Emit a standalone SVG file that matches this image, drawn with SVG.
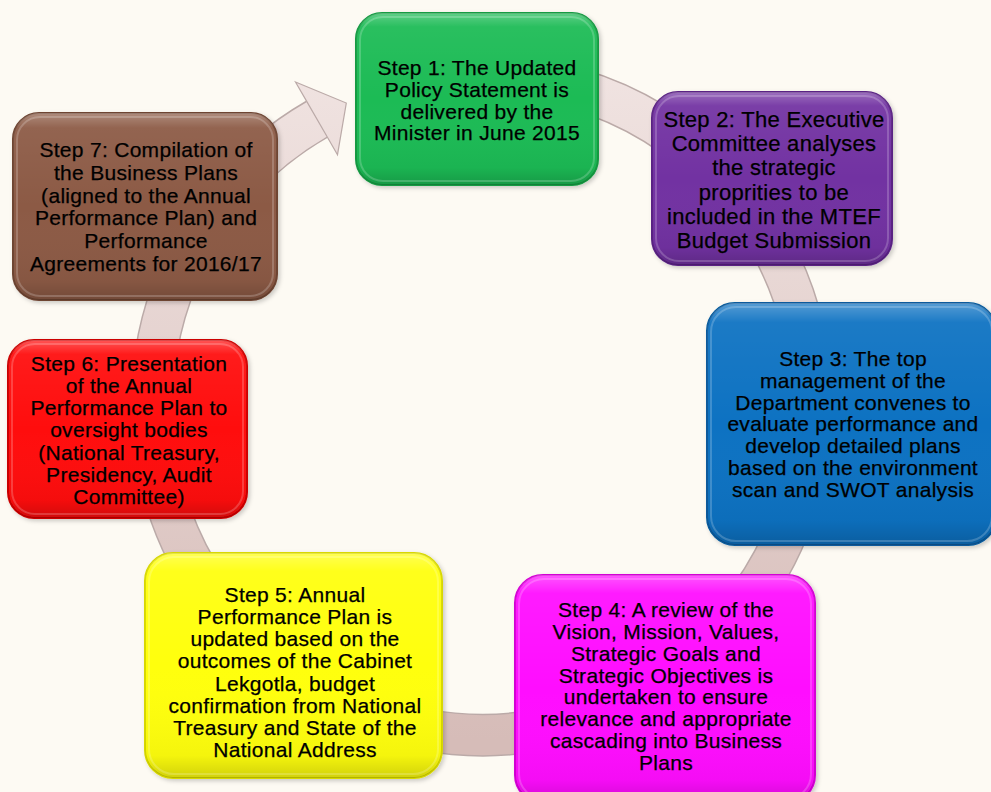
<svg xmlns="http://www.w3.org/2000/svg" width="991" height="792" viewBox="0 0 991 792">
<defs>
  <linearGradient id="ringGrad" gradientUnits="userSpaceOnUse" x1="0" y1="70" x2="0" y2="740">
    <stop offset="0" stop-color="#F0E3E1"/>
    <stop offset="1" stop-color="#D6BCB8"/>
  </linearGradient>
  <linearGradient id="gloss" x1="0" y1="0" x2="0" y2="1">
    <stop offset="0" stop-color="#fff" stop-opacity="0.3"/>
    <stop offset="0.08" stop-color="#fff" stop-opacity="0.06"/>
    <stop offset="0.5" stop-color="#fff" stop-opacity="0"/>
    <stop offset="0.9" stop-color="#000" stop-opacity="0.04"/>
    <stop offset="1" stop-color="#000" stop-opacity="0.18"/>
  </linearGradient>
  <filter id="shadow" x="-10%" y="-10%" width="120%" height="120%">
    <feDropShadow dx="2" dy="2" stdDeviation="2" flood-color="#000" flood-opacity="0.2"/>
  </filter>
</defs>
<style>
  .box { stroke-width: 2; filter: url(#shadow); }
  .gl { fill: url(#gloss); stroke: none; }
  .hl { fill: none; stroke: #fff; stroke-opacity: 0.2; stroke-width: 2; }
  .ringEdge { fill: none; stroke: #BBAAA8; stroke-width: 43; }
  .ring { fill: none; stroke: url(#ringGrad); stroke-width: 40; }
  .head { fill: url(#ringGrad); stroke: #BBAAA8; stroke-width: 1.2; stroke-linejoin: miter; }
  text { font-family: "Liberation Sans", Arial, sans-serif; font-size: 21px; fill: #000; stroke: #000; stroke-width: 0.25; text-anchor: middle; letter-spacing: 0.3px; }
  .big { font-size: 22px; }
</style>
<rect x="0" y="0" width="991" height="792" fill="#FDFAF3"/>

<g id="connectors">
  <path class="ringEdge" d="M 424.7 80 A 330 330 0 1 1 317 119.2"/>
  <path class="ring" d="M 424.7 80 A 330 330 0 1 1 317 119.2"/>
  <polygon class="head" points="295.5,82 346.3,103 337.5,154.7 327,136.5 307,101.9"/>
</g>

<g id="step1">
  <rect class="box" x="356" y="13" width="242" height="172" rx="26" fill="#1FBB55" stroke="#139A42"/>
  <rect class="gl" x="356" y="13" width="242" height="172" rx="26"/>
  <rect class="hl" x="360" y="17" width="234" height="164" rx="23"/>
  <text x="477" y="75">Step 1: The Updated</text>
  <text x="477" y="97">Policy Statement is</text>
  <text x="477" y="119">delivered by the</text>
  <text x="477" y="140">Minister in June 2015</text>
</g>

<g id="step2">
  <rect class="box" x="652" y="92" width="240" height="173" rx="26" fill="#7232A2" stroke="#5A2284"/>
  <rect class="gl" x="652" y="92" width="240" height="173" rx="26"/>
  <rect class="hl" x="656" y="96" width="232" height="165" rx="23"/>
  <text class="big" x="774" y="127">Step 2: The Executive</text>
  <text class="big" x="774" y="151">Committee analyses</text>
  <text class="big" x="774" y="175">the strategic</text>
  <text class="big" x="774" y="200">proprities to be</text>
  <text class="big" x="774" y="224">included in the MTEF</text>
  <text class="big" x="774" y="248">Budget Submission</text>
</g>

<g id="step3">
  <rect class="box" x="707" y="303" width="289" height="242" rx="28" fill="#0A72C2" stroke="#075A9C"/>
  <rect class="gl" x="707" y="303" width="289" height="242" rx="28"/>
  <rect class="hl" x="711" y="307" width="281" height="234" rx="25"/>
  <text x="853" y="366">Step 3: The top</text>
  <text x="853" y="388">management of the</text>
  <text x="853" y="410">Department convenes to</text>
  <text x="853" y="431">evaluate performance and</text>
  <text x="853" y="453">develop detailed plans</text>
  <text x="853" y="475">based on the environment</text>
  <text x="853" y="497">scan and SWOT analysis</text>
</g>

<g id="step4">
  <rect class="box" x="515" y="575" width="300" height="228" rx="28" fill="#FF10FF" stroke="#D400D4"/>
  <rect class="gl" x="515" y="575" width="300" height="228" rx="28"/>
  <rect class="hl" x="519" y="579" width="292" height="220" rx="25"/>
  <text x="666" y="617">Step 4: A review of the</text>
  <text x="666" y="639">Vision, Mission, Values,</text>
  <text x="666" y="661">Strategic Goals and</text>
  <text x="666" y="683">Strategic Objectives is</text>
  <text x="666" y="704">undertaken to ensure</text>
  <text x="666" y="726">relevance and appropriate</text>
  <text x="666" y="748">cascading into Business</text>
  <text x="666" y="770">Plans</text>
</g>

<g id="step5">
  <rect class="box" x="145" y="553" width="297" height="225" rx="28" fill="#FFFF10" stroke="#D8D800"/>
  <rect class="gl" x="145" y="553" width="297" height="225" rx="28"/>
  <rect class="hl" x="149" y="557" width="289" height="217" rx="25"/>
  <text x="295" y="602">Step 5: Annual</text>
  <text x="295" y="624">Performance Plan is</text>
  <text x="295" y="646">updated based on the</text>
  <text x="295" y="668">outcomes of the Cabinet</text>
  <text x="295" y="691">Lekgotla, budget</text>
  <text x="295" y="713">confirmation from National</text>
  <text x="295" y="735">Treasury and State of the</text>
  <text x="295" y="757">National Address</text>
</g>

<g id="step6">
  <rect class="box" x="8" y="340" width="239" height="178" rx="26" fill="#FF0A0A" stroke="#CC0000"/>
  <rect class="gl" x="8" y="340" width="239" height="178" rx="26"/>
  <rect class="hl" x="12" y="344" width="231" height="170" rx="23"/>
  <text x="129" y="371">Step 6: Presentation</text>
  <text x="129" y="393">of the Annual</text>
  <text x="129" y="415">Performance Plan to</text>
  <text x="129" y="437">oversight bodies</text>
  <text x="129" y="460">(National Treasury,</text>
  <text x="129" y="482">Presidency, Audit</text>
  <text x="129" y="504">Committee)</text>
</g>

<g id="step7">
  <rect class="box" x="13" y="113" width="264" height="187" rx="26" fill="#8C5A45" stroke="#6E4432"/>
  <rect class="gl" x="13" y="113" width="264" height="187" rx="26"/>
  <rect class="hl" x="17" y="117" width="256" height="179" rx="23"/>
  <text x="146" y="157">Step 7: Compilation of</text>
  <text x="146" y="180">the Business Plans</text>
  <text x="146" y="203">(aligned to the Annual</text>
  <text x="146" y="225">Performance Plan) and</text>
  <text x="146" y="248">Performance</text>
  <text x="146" y="271">Agreements for 2016/17</text>
</g>
</svg>
